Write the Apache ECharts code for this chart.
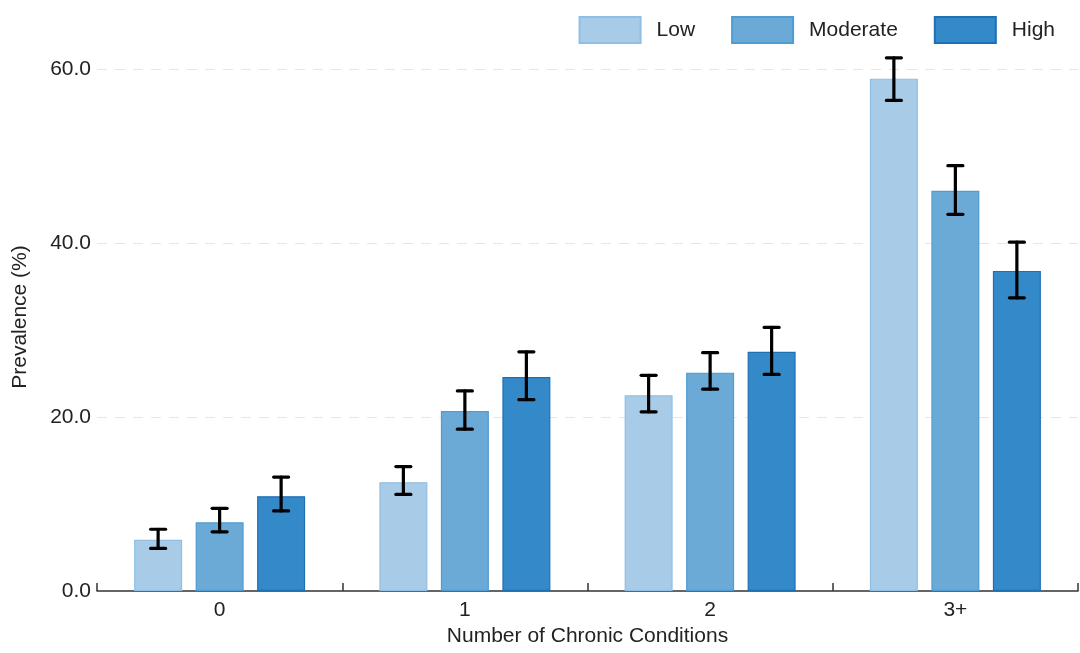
<!DOCTYPE html>
<html><head><meta charset="utf-8">
<script src="https://cdn.jsdelivr.net/npm/echarts@6/dist/echarts.min.js"></script>
<style>html,body{margin:0;padding:0;background:#fff}#c{width:1080px;height:653px}</style>
</head><body><div id="c"></div>
<script>
const categories = ['0', '1', '2', '3+'];
const seriesNames = ['Low', 'Moderate', 'High'];
const lowValues = [5.9, 12.5, 22.5, 58.9];
const lowLower = [4.9, 11.1, 20.6, 56.4];
const lowUpper = [7.1, 14.3, 24.8, 61.3];
const modValues = [7.9, 20.7, 25.1, 46.0];
const modLower = [6.8, 18.6, 23.2, 43.3];
const modUpper = [9.5, 23.0, 27.4, 48.9];
const highValues = [10.9, 24.6, 27.5, 36.8];
const highLower = [9.2, 22.0, 24.9, 33.7];
const highUpper = [13.1, 27.5, 30.3, 40.1];
const yTicks = [0, 20, 40, 60];

const fills = ['#a8cce7', '#6baad6', '#3489c9'];
const borders = ['#8fbfe4', '#4f9bd2', '#1f6fb5'];
const BAR_W = 48, BAR_GAP = 13.5;
const font = 'Liberation Sans, Arial, sans-serif';

const values = [lowValues, modValues, highValues];
const lowers = [lowLower, modLower, highLower];
const uppers = [lowUpper, modUpper, highUpper];

const series = [];
seriesNames.forEach((n, i) => {
  series.push({
    name: n, type: 'bar', data: values[i], barWidth: BAR_W, barGap: (BAR_GAP / BAR_W * 100) + '%',
    itemStyle: { color: fills[i], borderColor: borders[i], borderWidth: 1.2 },
    emphasis: { disabled: true }
  });
});
seriesNames.forEach((n, i) => {
  const off = (i - 1) * (BAR_W + BAR_GAP);
  series.push({
    type: 'custom', z: 10, silent: true,
    data: categories.map((c, k) => [k, lowers[i][k], uppers[i][k]]),
    encode: { x: 0, y: [1, 2] },
    renderItem: function (params, api) {
      const lo = api.coord([api.value(0), api.value(1)]);
      const hi = api.coord([api.value(0), api.value(2)]);
      const x = lo[0] + off;
      const cap = 7.5;
      const st = { stroke: '#000', lineWidth: 3.2, lineCap: 'round' };
      return { type: 'group', children: [
        { type: 'line', shape: { x1: x, y1: lo[1], x2: x, y2: hi[1] }, style: st },
        { type: 'line', shape: { x1: x - cap, y1: lo[1], x2: x + cap, y2: lo[1] }, style: st },
        { type: 'line', shape: { x1: x - cap, y1: hi[1], x2: x + cap, y2: hi[1] }, style: st }
      ]};
    }
  });
});

const chart = echarts.init(document.getElementById('c'));
chart.setOption({
  animation: false,
  textStyle: { fontFamily: font },
  legend: {
    data: seriesNames, top: 11, right: 20, itemWidth: 61, itemHeight: 26, itemGap: 36,
    textStyle: { fontSize: 21, color: '#222', fontFamily: font, padding: [0, 0, 0, 11] },
    icon: 'rect'
  },
  grid: { left: 97, right: 2, top: 43, bottom: 62, containLabel: false },
  xAxis: {
    type: 'category', data: categories,
    name: 'Number of Chronic Conditions', nameLocation: 'middle', nameGap: 35,
    nameTextStyle: { fontSize: 21, color: '#222', fontFamily: font },
    axisLine: { show: true, lineStyle: { color: '#333', width: 1.5 } },
    axisTick: { show: true, inside: true, length: 8, lineStyle: { color: '#333', width: 1.5 } },
    axisLabel: { fontSize: 21, color: '#222', margin: 9, fontFamily: font }
  },
  yAxis: {
    type: 'value', min: 0, max: 63, interval: 20,
    name: 'Prevalence (%)', nameLocation: 'middle', nameGap: 66,
    nameTextStyle: { fontSize: 21, color: '#222', fontFamily: font },
    axisLine: { show: false }, axisTick: { show: false },
    axisLabel: { fontSize: 21, color: '#222', margin: 6, showMaxLabel: false, fontFamily: font,
      formatter: v => yTicks.includes(v) ? v.toFixed(1) : '' },
    splitLine: { show: true, showMinLine: false, showMaxLine: false,
      lineStyle: { color: '#e6e6e6', type: [10, 8], width: 1.2 } }
  },
  series: series
});
</script></body></html>
